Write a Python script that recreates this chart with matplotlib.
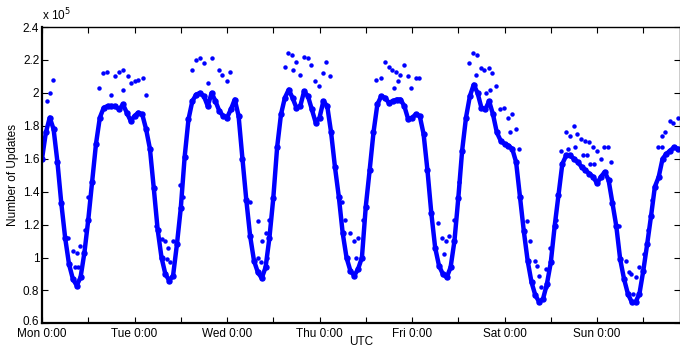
import matplotlib
matplotlib.use("Agg")
import matplotlib.pyplot as plt
import matplotlib.transforms as mtransforms
from matplotlib.ticker import FixedLocator, FixedFormatter

plt.rcParams['font.family'] = ['Liberation Sans', 'DejaVu Sans']

# Hourly central values (units of 1e5 updates), hour 0 = Mon 0:00 UTC
hours = list(range(166))
updates = [
    # Mon
    1.60, 1.76, 1.85, 1.78, 1.58, 1.33, 1.12, 0.96, 0.87, 0.83, 0.88, 1.03,
    1.23, 1.46, 1.69, 1.85, 1.91, 1.92, 1.92, 1.92, 1.90, 1.93, 1.88, 1.83,
    # Tue
    1.86, 1.88, 1.87, 1.78, 1.66, 1.42, 1.17, 1.00, 0.90, 0.86, 0.89, 1.08,
    1.30, 1.61, 1.84, 1.95, 1.99, 2.00, 1.98, 1.92, 2.00, 1.95, 1.89, 1.86,
    # Wed
    1.85, 1.90, 1.96, 1.86, 1.60, 1.35, 1.13, 0.98, 0.91, 0.875, 0.94, 1.12,
    1.36, 1.67, 1.87, 1.97, 2.02, 1.97, 1.91, 1.92, 2.01, 1.98, 1.90, 1.82,
    # Thu
    1.85, 1.95, 1.92, 1.76, 1.55, 1.37, 1.15, 1.00, 0.92, 0.89, 0.93, 1.00,
    1.31, 1.53, 1.76, 1.93, 1.98, 1.97, 1.94, 1.95, 1.96, 1.96, 1.92, 1.84,
    # Fri
    1.85, 1.87, 1.86, 1.75, 1.53, 1.27, 1.06, 0.95, 0.90, 0.88, 0.94, 1.10,
    1.36, 1.65, 1.85, 1.98, 2.05, 2.00, 1.91, 1.90, 1.95, 1.87, 1.76, 1.71,
    # Sat
    1.69, 1.68, 1.66, 1.58, 1.37, 1.16, 0.98, 0.85, 0.77, 0.73, 0.75, 0.84,
    0.97, 1.19, 1.38, 1.57, 1.62, 1.62, 1.60, 1.58, 1.55, 1.53, 1.51, 1.49,
    # Sun
    1.45, 1.49, 1.52, 1.47, 1.33, 1.19, 0.99, 0.87, 0.78, 0.73, 0.73, 0.78,
    0.92, 1.08, 1.25, 1.43, 1.49, 1.60, 1.63, 1.65, 1.67, 1.66,
]

# Scattered outlier samples (hour, value in 1e5)
out_hours = [
    1.2, 2.1, 2.9, 6.8, 8.1, 9.0, 9.8, 8.6, 9.4, 12.0, 11.1,
    15.9, 16.9, 14.8, 18.9, 20.0, 21.1, 22.4, 23.0, 24.1, 25.0, 26.1, 27.0, 17.8, 21.0,
    29.7, 31.0, 31.9, 32.7, 33.9, 33.3, 32.5, 35.8, 36.5,
    39.0, 40.0, 40.9, 42.0, 44.0, 43.1, 45.9, 46.8, 48.9, 47.9,
    56.1, 57.0, 58.1, 56.1, 56.9, 58.9, 53.9, 58.3,
    63.8, 64.9, 63.0, 66.0, 67.9, 68.9, 69.9, 73.8, 72.9, 74.8, 67.0, 65.2, 71.9, 70.8,
    78.5, 79.8, 80.9, 82.0, 81.4, 83.4, 77.7,
    88.9, 90.0, 90.9, 91.9, 93.0, 93.9, 94.9, 96.9, 97.9, 86.7, 87.9, 91.3, 95.8, 92.3,
    102.7, 103.8, 104.9, 105.7, 104.3, 106.8, 108.2,
    111.8, 112.8, 110.9, 113.8, 114.8, 115.9, 116.8, 117.9, 112.6, 115.2, 118.9, 119.8,
    120.9, 121.9, 122.9, 121.5, 123.7, 116.3,
    125.8, 126.5, 127.9, 128.9, 129.5, 130.8, 131.7, 133.4, 130.7, 128.3,
    136.0, 137.9, 136.9, 138.8, 139.9, 140.9, 141.8, 142.9, 143.9, 145.7, 146.8, 147.7,
    136.5, 138.3, 140.3, 141.3, 142.3, 143.3, 144.9, 134.7,
    149.8, 151.5, 152.8, 154.1, 155.0, 156.1, 157.3, 158.3, 153.3, 152.4,
    160.8, 162.9, 163.8, 164.9, 161.6, 159.7, 160.9,
]
out_values = [
    1.95, 2.00, 2.08, 1.12, 1.04, 1.03, 1.07, 0.94, 0.94, 1.37, 1.17,
    2.12, 2.13, 2.03, 2.10, 2.13, 2.14, 2.10, 2.06, 2.07, 2.08, 2.09, 1.99, 1.99, 2.02,
    1.19, 1.11, 1.10, 1.06, 1.10, 0.97, 0.99, 1.44, 1.37,
    2.14, 2.20, 2.21, 2.18, 2.21, 2.06, 2.14, 2.11, 2.13, 2.07,
    1.22, 1.10, 1.15, 1.00, 0.97, 1.23, 1.34, 1.00,
    2.24, 2.23, 2.16, 2.19, 2.22, 2.21, 2.17, 2.19, 2.12, 2.10, 2.11, 2.14, 2.04, 2.07,
    1.23, 1.15, 1.10, 1.12, 1.00, 1.23, 1.34,
    2.19, 2.16, 2.14, 2.13, 2.11, 2.17, 2.10, 2.09, 2.09, 2.08, 2.09, 2.03, 2.03, 2.07,
    1.21, 1.12, 1.10, 1.13, 1.02, 1.23, 1.46,
    2.24, 2.23, 2.18, 2.15, 2.14, 2.15, 2.12, 2.04, 2.11, 2.00, 1.90, 1.91,
    1.85, 1.87, 1.78, 1.76, 1.66, 2.02,
    1.22, 1.10, 0.98, 0.89, 0.82, 0.93, 1.06, 1.23, 0.82, 0.95,
    1.76, 1.80, 1.74, 1.75, 1.72, 1.71, 1.70, 1.67, 1.65, 1.67, 1.67, 1.58,
    1.66, 1.67, 1.62, 1.62, 1.57, 1.57, 1.60, 1.65,
    1.19, 0.98, 0.90, 0.88, 0.94, 1.02, 1.17, 1.35, 0.78, 0.91,
    1.74, 1.83, 1.82, 1.85, 1.76, 1.67, 1.67,
]

day_labels = ['Mon 0:00', 'Tue 0:00', 'Wed 0:00', 'Thu 0:00', 'Fri 0:00', 'Sat 0:00', 'Sun 0:00']
y_ticks = [0.6, 0.8, 1.0, 1.2, 1.4, 1.6, 1.8, 2.0, 2.2, 2.4]
y_labels = ['0.6', '0.8', '1', '1.2', '1.4', '1.6', '1.8', '2', '2.2', '2.4']

blue = '#0000ff'
fig = plt.figure(figsize=(6.8, 3.47), dpi=100)
ax = fig.add_axes([0.0618, 0.068, 0.9375, 0.854])

ax.plot(hours, updates, color=blue, lw=3.2, solid_joinstyle='round', solid_capstyle='round')
ax.plot(hours, updates, linestyle='none', marker='o', ms=3.6, color=blue, mec=blue)
ax.plot(out_hours, out_values, linestyle='none', marker='o', ms=2.2, color=blue, mec=blue)

ax.set_xlim(0, 165.4)
ax.set_ylim(0.6, 2.4)

xt = list(range(0, 166, 12))
xl = [day_labels[i // 2] if i % 2 == 0 else '' for i in range(len(xt))]
ax.xaxis.set_major_locator(FixedLocator(xt))
ax.xaxis.set_major_formatter(FixedFormatter(xl))
ax.yaxis.set_major_locator(FixedLocator(y_ticks))
ax.yaxis.set_major_formatter(FixedFormatter(y_labels))

ax.tick_params(direction='in', length=4, width=0.8, top=True, right=True,
               labelsize=8.5, pad=2, colors='black')
ax.tick_params(axis='x', pad=3.5)
for s in ax.spines.values():
    s.set_linewidth(1.0)
ax.spines['left'].set_linewidth(1.6)
ax.spines['bottom'].set_linewidth(1.6)

# nudge the lowest y label up slightly so it does not collide with "Mon 0:00"
first_tick = ax.yaxis.get_major_ticks()[0]
first_tick.label1.set_transform(first_tick.label1.get_transform() +
                                mtransforms.ScaledTranslation(0, 3 / 100, fig.dpi_scale_trans))

ax.set_xlabel('UTC', fontsize=8.5, labelpad=-3)
ax.set_ylabel('Number of Updates', fontsize=8.5, labelpad=3)
ax.text(0.0, 1.012, 'x 10$^5$', transform=ax.transAxes, fontsize=8.5,
        ha='left', va='bottom')

fig.savefig('out.png', dpi=100)
